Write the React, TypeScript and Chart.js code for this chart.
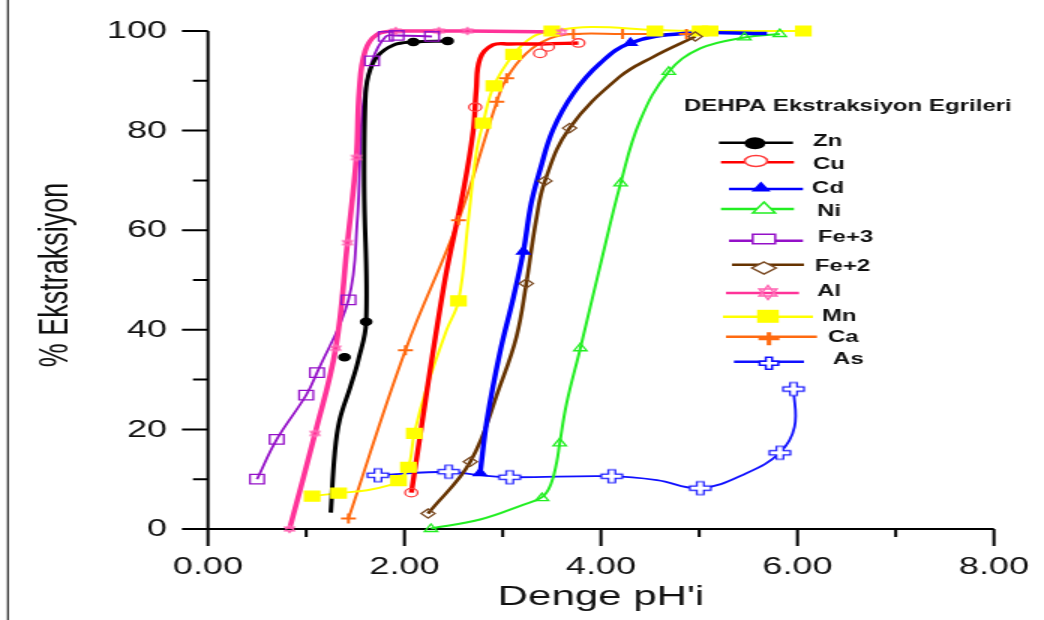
import React, { useEffect, useRef } from "react";
import { Chart, registerables } from "chart.js";

Chart.register(...registerables);

type Pt = [number, number];

// ---------------- data ----------------
const seriesNames = ["Zn", "Cu", "Cd", "Ni", "Fe+3", "Fe+2", "Al", "Mn", "Ca", "As"];
const xTicks = [0, 2, 4, 6, 8];
const yTicks = [0, 20, 40, 60, 80, 100];
const legendTitle = "DEHPA Ekstraksiyon Egrileri";
const xTitle = "Denge pH'i";
const yTitle = "% Ekstraksiyon";

const znMarkers: Pt[] = [[1.39, 34.5], [1.61, 41.6], [2.09, 97.8], [2.44, 98.0]];
const znCurve: Pt[] = [[1.25, 3.3], [1.29, 15.2], [1.34, 21.9], [1.45, 28.6], [1.53, 33.9], [1.61, 41.6], [1.59, 68.8], [1.6, 85.6], [1.63, 90.8], [1.72, 94.8], [1.89, 97.2], [2.09, 97.8], [2.44, 98.0]];

const cuMarkers: Pt[] = [[2.07, 7.3], [2.72, 84.7], [3.38, 95.5], [3.46, 96.8], [3.77, 97.6]];
const cuCurve: Pt[] = [[2.07, 7.3], [2.4, 48.7], [2.6, 68], [2.7, 80], [2.73, 88], [2.77, 94.5], [2.9, 97.2], [3.07, 97.4], [3.4, 97.4], [3.77, 97.6]];

const cdMarkers: Pt[] = [[2.77, 11.2], [3.21, 55.7], [4.3, 97.6]];
const cdCurve: Pt[] = [[2.77, 11.2], [2.84, 21.9], [2.97, 35.3], [3.11, 46.6], [3.21, 55.7], [3.29, 65.4], [3.38, 72.1], [3.51, 80.1], [3.72, 87.5], [3.99, 93.5], [4.3, 97.6], [4.84, 99.5], [5.69, 99.5]];

const niMarkers: Pt[] = [[2.27, 0], [3.4, 6.2], [3.58, 17.2], [3.79, 36.3], [4.2, 69.4], [4.69, 91.8], [5.46, 98.7], [5.82, 99.4]];
const niCurve: Pt[] = [[2.27, 0.1], [2.77, 1.9], [3.2, 4.8], [3.4, 6.4], [3.49, 9.0], [3.55, 13.5], [3.58, 17.2], [3.65, 25.2], [3.79, 36.3], [3.99, 52.7], [4.2, 69.4], [4.4, 82.1], [4.69, 91.8], [5.01, 96.5], [5.46, 98.7], [5.82, 99.4]];

const fe3Markers: Pt[] = [[0.5, 10.0], [0.7, 18.0], [1.0, 26.9], [1.11, 31.4], [1.43, 46.0], [1.67, 94.0], [1.81, 98.9], [1.92, 99.1], [2.28, 98.9]];
const fe3Curve: Pt[] = [[0.5, 10.0], [0.7, 18.0], [1.0, 26.9], [1.11, 31.4], [1.43, 46.0], [1.52, 62], [1.55, 75.5], [1.58, 85.5], [1.67, 94.0], [1.81, 98.9], [1.92, 99.1], [2.28, 98.9]];

const fe2Markers: Pt[] = [[2.24, 3.1], [2.67, 13.5], [3.24, 49.3], [3.43, 69.9], [3.68, 80.5], [4.96, 98.9]];
const fe2Curve: Pt[] = [[2.24, 3.1], [2.67, 13.5], [2.97, 28.6], [3.14, 38.6], [3.24, 49.3], [3.34, 62], [3.43, 69.9], [3.68, 80.5], [4.19, 90.8], [4.53, 94.8], [4.96, 98.9]];

const alMarkers: Pt[] = [[0.83, 0], [1.09, 19.2], [1.3, 36.3], [1.42, 57.5], [1.51, 74.6], [1.91, 100], [2.35, 100], [2.64, 100], [3.6, 99.8]];
const alCurve: Pt[] = [[0.83, 0], [1.09, 19.2], [1.3, 36.3], [1.42, 57.5], [1.51, 74.6], [1.54, 88], [1.6, 96], [1.72, 99.3], [1.91, 100], [2.64, 100], [3.6, 99.8]];

const mnMarkers: Pt[] = [[1.06, 6.6], [1.33, 7.2], [1.94, 9.7], [2.04, 12.4], [2.1, 19.2], [2.55, 45.8], [2.8, 81.5], [2.91, 89.0], [3.11, 95.3], [3.5, 100], [4.55, 100], [5.01, 100], [5.11, 100], [6.06, 100]];
const mnCurve: Pt[] = [[1.06, 6.6], [1.33, 7.2], [1.62, 7.8], [1.85, 8.8], [1.94, 9.7], [2.04, 12.4], [2.1, 19.2], [2.23, 28.6], [2.43, 40], [2.55, 45.8], [2.65, 62], [2.73, 75.4], [2.8, 81.5], [2.91, 89.0], [3.11, 95.3], [3.31, 98.9], [3.5, 100], [3.9, 100.8], [4.55, 100.2], [5.06, 100], [6.06, 100]];

const caMarkers: Pt[] = [[1.43, 2.1], [2.01, 35.9], [2.55, 62.0], [2.94, 85.8], [3.04, 90.5], [3.72, 99.4], [4.22, 99.4], [4.87, 99.4]];
const caCurve: Pt[] = [[1.43, 2.1], [2.01, 35.9], [2.55, 62.0], [2.94, 85.8], [3.04, 90.5], [3.24, 95.5], [3.48, 98.5], [3.72, 99.4], [4.22, 99.4], [4.87, 99.4]];

const asMarkers: Pt[] = [[1.73, 10.8], [2.45, 11.5], [3.07, 10.4], [4.11, 10.6], [5.01, 8.2], [5.82, 15.3], [5.96, 28.1]];
const asCurve: Pt[] = [[1.73, 10.8], [2.45, 11.5], [2.77, 10.8], [3.07, 10.4], [4.11, 10.6], [4.57, 9.8], [5.01, 8.2], [5.48, 11.2], [5.82, 15.3], [5.97, 20.5], [5.96, 28.1]];

const curves: Pt[][] = [znCurve, cuCurve, cdCurve, niCurve, fe3Curve, fe2Curve, alCurve, mnCurve, caCurve, asCurve];
const markers: Pt[][] = [znMarkers, cuMarkers, cdMarkers, niMarkers, fe3Markers, fe2Markers, alMarkers, mnMarkers, caMarkers, asMarkers];

// ---------------- styles & layout ----------------
const S = 1.5; // the picture is stretched horizontally
const W = 696;
const H = 620;
const LEFT = 208 / S;
const RIGHT = 994 / S;
const TOP = 31;
const BOTTOM = 529;
const FONT = "'Liberation Sans', Arial, sans-serif";
const TEXT = "#111111";

type Kind = "circleFill" | "circleOpen" | "triFill" | "triOpen" | "rectOpen" | "diamond" | "hexagram" | "rectFill" | "plus" | "openCross";

const styles: { color: string; mcolor: string; lw: number; kind: Kind; pr: number }[] = [
  { color: "#000000", mcolor: "#000000", lw: 3, kind: "circleFill", pr: 3.6 },
  { color: "#ff0000", mcolor: "#ff3b3b", lw: 3.4, kind: "circleOpen", pr: 4.2 },
  { color: "#0000ff", mcolor: "#0000ff", lw: 3.4, kind: "triFill", pr: 5 },
  { color: "#22ee22", mcolor: "#22ee22", lw: 2, kind: "triOpen", pr: 5 },
  { color: "#9410c8", mcolor: "#9410c8", lw: 1.8, kind: "rectOpen", pr: 6.7 },
  { color: "#663300", mcolor: "#7a4a22", lw: 2.6, kind: "diamond", pr: 4.6 },
  { color: "#ff3399", mcolor: "#ff66b3", lw: 3.6, kind: "hexagram", pr: 3.6 },
  { color: "#ffff00", mcolor: "#ffff00", lw: 2, kind: "rectFill", pr: 7 },
  { color: "#ff6a10", mcolor: "#ff6a10", lw: 2, kind: "plus", pr: 5 },
  { color: "#1010ff", mcolor: "#1010ff", lw: 1.8, kind: "openCross", pr: 7 },
];

// bottom -> top drawing order of curves
const drawOrder = ["As", "Ni", "Fe+2", "Ca", "Mn", "Cd", "Fe+3", "Zn", "Cu", "Al"];

// legend geometry (display px): line x1,x2,y ; marker x,y,w,h ; label x,y
const legendRows = [
  { x1: 719, x2: 793, y: 142.7, mx: 755, my: 143.3, mw: 14, mh: 12, lx: 813, ly: 142 },
  { x1: 721, x2: 794, y: 162.3, mx: 756, my: 161, mw: 15, mh: 11, lx: 813, ly: 165 },
  { x1: 729, x2: 803, y: 189, mx: 761, my: 186.5, mw: 13, mh: 10, lx: 812, ly: 189 },
  { x1: 721, x2: 794, y: 209, mx: 764, my: 207.5, mw: 15, mh: 11, lx: 817, ly: 212 },
  { x1: 729, x2: 803, y: 240.7, mx: 764, my: 239, mw: 15, mh: 9.5, lx: 818, ly: 238 },
  { x1: 732, x2: 804, y: 264.7, mx: 764, my: 268, mw: 16, mh: 12, lx: 815, ly: 266.7 },
  { x1: 726, x2: 799, y: 293, mx: 768, my: 292.5, mw: 13.5, mh: 14, lx: 817, ly: 291.7 },
  { x1: 723, x2: 813, y: 316.7, mx: 768, my: 316.3, mw: 14.5, mh: 13, lx: 822, ly: 316.7 },
  { x1: 726, x2: 817, y: 336.7, mx: 769, my: 338.8, mw: 14, mh: 13, lx: 828, ly: 338 },
  { x1: 734, x2: 804, y: 361.7, mx: 769, my: 363.3, mw: 12.5, mh: 12, lx: 833, ly: 360 },
];

function drawShape(g: CanvasRenderingContext2D, kind: Kind, cx: number, cy: number, w: number, h: number, color: string, lw: number) {
  const a = w / 2, b = h / 2;
  g.save();
  g.strokeStyle = color;
  g.fillStyle = color;
  g.lineWidth = lw;
  g.lineJoin = "miter";
  g.beginPath();
  switch (kind) {
    case "circleFill":
    case "circleOpen":
      g.ellipse(cx, cy, a, b, 0, 0, Math.PI * 2);
      if (kind === "circleFill") g.fill(); else { g.fillStyle = "#fff"; g.fill(); g.stroke(); }
      break;
    case "triFill":
    case "triOpen":
      g.moveTo(cx, cy - b);
      g.lineTo(cx + a, cy + b);
      g.lineTo(cx - a, cy + b);
      g.closePath();
      if (kind === "triFill") g.fill(); else { g.fillStyle = "#fff"; g.fill(); g.stroke(); }
      break;
    case "rectOpen":
    case "rectFill":
      g.rect(cx - a, cy - b, w, h);
      if (kind === "rectFill") g.fill(); else { g.fillStyle = "#fff"; g.fill(); g.stroke(); }
      break;
    case "diamond":
      g.moveTo(cx, cy - b);
      g.lineTo(cx + a, cy);
      g.lineTo(cx, cy + b);
      g.lineTo(cx - a, cy);
      g.closePath();
      g.fillStyle = "#fff"; g.fill(); g.stroke();
      break;
    case "hexagram":
      for (const rot of [-Math.PI / 2, Math.PI / 2]) {
        for (let i = 0; i < 3; i++) {
          const ang = rot + (i * 2 * Math.PI) / 3;
          const px = cx + a * Math.cos(ang), py = cy + b * Math.sin(ang);
          if (i === 0) g.moveTo(px, py); else g.lineTo(px, py);
        }
        g.closePath();
      }
      g.stroke();
      break;
    case "plus":
      g.moveTo(cx - a, cy); g.lineTo(cx + a, cy);
      g.moveTo(cx, cy - b); g.lineTo(cx, cy + b);
      g.stroke();
      break;
    case "openCross": {
      const tx = w / 6, ty = h / 6;
      g.moveTo(cx - tx, cy - b); g.lineTo(cx + tx, cy - b); g.lineTo(cx + tx, cy - ty);
      g.lineTo(cx + a, cy - ty); g.lineTo(cx + a, cy + ty); g.lineTo(cx + tx, cy + ty);
      g.lineTo(cx + tx, cy + b); g.lineTo(cx - tx, cy + b); g.lineTo(cx - tx, cy + ty);
      g.lineTo(cx - a, cy + ty); g.lineTo(cx - a, cy - ty); g.lineTo(cx - tx, cy - ty);
      g.closePath();
      g.fillStyle = "#fff"; g.fill(); g.stroke();
      break;
    }
  }
  g.restore();
}

function markerCanvas(kind: Kind, w: number, h: number, color: string, lw: number) {
  const c = document.createElement("canvas");
  c.width = Math.ceil(w + 4);
  c.height = Math.ceil(h + 4);
  const g = c.getContext("2d")!;
  drawShape(g, kind, c.width / 2, c.height / 2, w, h, color, lw);
  return c;
}

const decor = {
  id: "decor",
  beforeDatasetsDraw(chart: any) {
    const { ctx, chartArea, scales } = chart;
    const xs = scales.x, ys = scales.y;
    ctx.save();
    ctx.strokeStyle = "#000";
    ctx.lineWidth = 2;
    ctx.beginPath();
    ctx.moveTo(chartArea.left, chartArea.top);
    ctx.lineTo(chartArea.left, chartArea.bottom);
    ctx.moveTo(chartArea.left - 26 / S, chartArea.bottom);
    ctx.lineTo(chartArea.right, chartArea.bottom);
    for (let v = 0; v <= 100; v += 10) {
      const y = ys.getPixelForValue(v);
      const len = v % 20 === 0 ? 26 / S : 15 / S;
      ctx.moveTo(chartArea.left - len, y);
      ctx.lineTo(chartArea.left, y);
    }
    for (let v = 0; v <= 8; v += 1) {
      const x = xs.getPixelForValue(v);
      const len = v % 2 === 0 ? 17 : 8;
      ctx.moveTo(x, chartArea.bottom);
      ctx.lineTo(x, chartArea.bottom + len);
    }
    ctx.stroke();

    // tick labels from the library's scales
    ctx.fillStyle = TEXT;
    ctx.font = `24px ${FONT}`;
    ctx.textBaseline = "middle";
    ctx.textAlign = "center";
    xs.ticks.forEach((t: any) => ctx.fillText(Number(t.value).toFixed(2), xs.getPixelForValue(t.value), 567));
    ctx.textAlign = "right";
    ys.ticks.forEach((t: any) => ctx.fillText(String(t.value), 167 / S, ys.getPixelForValue(t.value) + 0.5));
    ctx.restore();
  },
  afterDraw(chart: any) {
    const { ctx, chartArea } = chart;
    ctx.save();
    // left frame line of the picture
    ctx.strokeStyle = "#333";
    ctx.lineWidth = 1.3;
    ctx.beginPath();
    ctx.moveTo(8 / S, 0);
    ctx.lineTo(8 / S, H);
    ctx.stroke();

    ctx.fillStyle = TEXT;
    // x title
    ctx.font = `28px ${FONT}`;
    ctx.textAlign = "center";
    ctx.textBaseline = "middle";
    ctx.fillText(xTitle, (chartArea.left + chartArea.right) / 2, 597);
    // y title
    ctx.save();
    ctx.translate(57 / S, 275);
    ctx.rotate(-Math.PI / 2);
    ctx.font = `27px ${FONT}`;
    ctx.fillText(yTitle, 0, 0);
    ctx.restore();

    // legend
    ctx.textAlign = "left";
    ctx.font = `bold 16px ${FONT}`;
    ctx.fillText(legendTitle, 684 / S, 107);
    seriesNames.forEach((name, i) => {
      const r = legendRows[i];
      const st = styles[i];
      ctx.strokeStyle = st.color;
      ctx.lineWidth = 2.4;
      ctx.beginPath();
      ctx.moveTo(r.x1 / S, r.y);
      ctx.lineTo(r.x2 / S, r.y);
      ctx.stroke();
      const lw = st.kind === "plus" ? 3 : 1.5;
      drawShape(ctx, st.kind, r.mx / S, r.my, r.mw, r.mh, st.mcolor, lw);
      ctx.fillStyle = TEXT;
      ctx.font = `bold 16px ${FONT}`;
      ctx.fillText(name, r.lx / S, r.ly);
    });
    ctx.restore();
  },
};

export default function App() {
  const ref = useRef<HTMLCanvasElement>(null);
  useEffect(() => {
    const canvas = ref.current!;
    const datasets: any[] = [];
    seriesNames.forEach((name, i) => {
      const st = styles[i];
      datasets.push({
        label: name + " curve",
        data: curves[i].map(([x, y]) => ({ x, y })),
        showLine: true,
        borderColor: st.color,
        borderWidth: st.lw,
        tension: 0.4,
        pointRadius: 0,
        pointHoverRadius: 0,
        fill: false,
        clip: false,
        order: 30 - drawOrder.indexOf(name),
      });
      let pointStyle: any;
      let bg = st.mcolor;
      let bw = 1.3;
      if (st.kind === "hexagram") pointStyle = markerCanvas("hexagram", 7.5, 7.5, st.mcolor, 1.1);
      else if (st.kind === "openCross") pointStyle = markerCanvas("openCross", 14, 13, st.mcolor, 1.2);
      else if (st.kind === "circleFill" || st.kind === "circleOpen") pointStyle = "circle";
      else if (st.kind === "triFill" || st.kind === "triOpen") pointStyle = "triangle";
      else if (st.kind === "rectFill" || st.kind === "rectOpen") pointStyle = "rect";
      else if (st.kind === "diamond") pointStyle = "rectRot";
      else if (st.kind === "plus") { pointStyle = "cross"; bw = 2; }
      if (st.kind === "circleOpen" || st.kind === "triOpen" || st.kind === "rectOpen" || st.kind === "diamond") bg = "rgba(255,255,255,0)";
      datasets.push({
        label: name,
        data: markers[i].map(([x, y]) => ({ x, y })),
        showLine: false,
        pointStyle,
        pointRadius: st.pr,
        pointHoverRadius: st.pr,
        pointBackgroundColor: bg,
        pointBorderColor: st.mcolor,
        pointBorderWidth: bw,
        clip: false,
        order: 0,
      });
    });

    const chart = new Chart(canvas, {
      type: "scatter",
      data: { datasets },
      options: {
        responsive: false,
        animation: false,
        devicePixelRatio: 1,
        events: [],
        layout: { autoPadding: false, padding: { left: 0, top: TOP, right: W - RIGHT, bottom: 0 } },
        plugins: { legend: { display: false }, tooltip: { enabled: false }, title: { display: false } },
        scales: {
          x: {
            type: "linear",
            min: 0,
            max: 8,
            afterBuildTicks: (s: any) => { s.ticks = xTicks.map((v) => ({ value: v })); },
            ticks: { display: false, padding: 0 },
            grid: { display: false, drawTicks: false },
            border: { display: false },
            afterFit: (s: any) => { s.height = H - BOTTOM; },
          },
          y: {
            type: "linear",
            min: 0,
            max: 100,
            afterBuildTicks: (s: any) => { s.ticks = yTicks.map((v) => ({ value: v })); },
            ticks: { display: false, padding: 0 },
            grid: { display: false, drawTicks: false },
            border: { display: false },
            afterFit: (s: any) => { s.width = LEFT; },
          },
        },
      },
      plugins: [decor],
    } as any);
    return () => chart.destroy();
  }, []);
  return (
    <canvas
      ref={ref}
      width={W}
      height={H}
      style={{ position: "fixed", left: 0, top: 0, width: `${W * S}px`, height: `${H}px`, background: "#fff" }}
    />
  );
}
